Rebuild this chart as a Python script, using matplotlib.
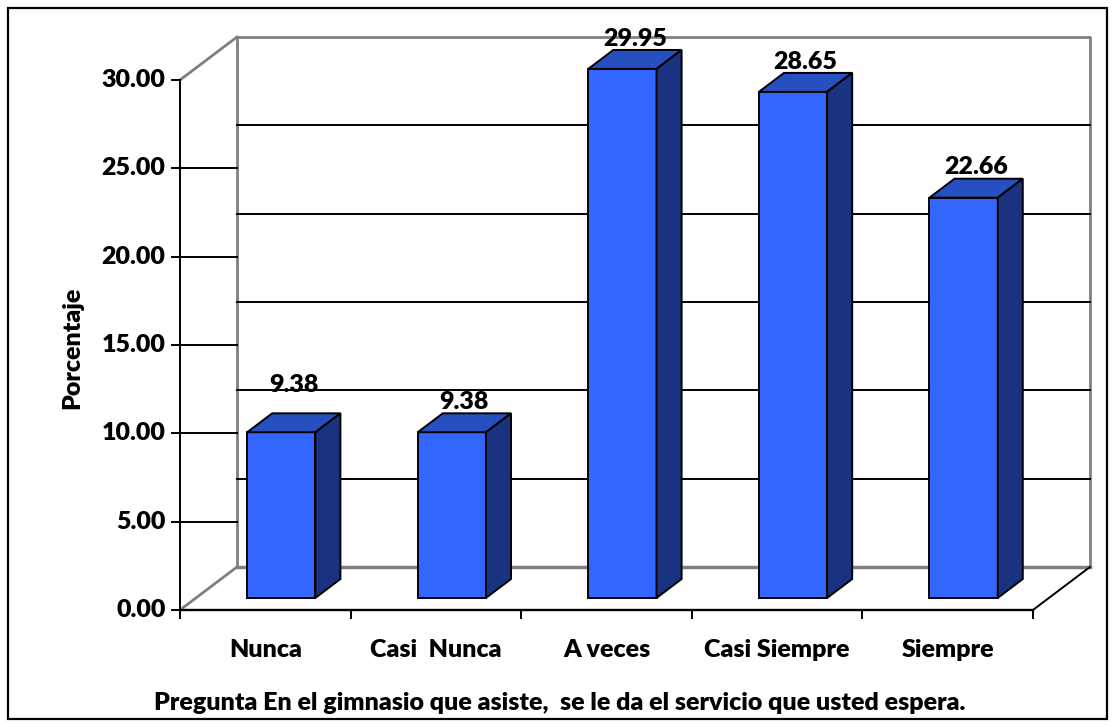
import matplotlib.pyplot as plt
from matplotlib.patches import Polygon, Rectangle

# Datos de la pregunta
categorias = ['Nunca', 'Casi  Nunca', 'A veces', 'Casi Siempre', 'Siempre']
porcentajes = [9.38, 9.38, 29.95, 28.65, 22.66]
ticks_y = [0, 5, 10, 15, 20, 25, 30]

plt.rcParams['font.family'] = ['Lato', 'DejaVu Sans']
plt.rcParams['font.weight'] = 'heavy'

fig = plt.figure(figsize=(11.15, 7.27), dpi=100)
ax = fig.add_axes([0, 0, 1, 1])
ax.set_xlim(-1.055, 5.481)
ax.set_ylim(-6.623, 34.53)
ax.axis('off')

# desplazamiento de profundidad (en unidades de datos)
DX, DY = 0.334, 2.435
n = len(categorias)
ymax = ticks_y[-1]
gris = '#808080'
lw = 1.4

# pared del fondo y suelo
ax.plot([DX, DX, n + DX, n + DX], [DY, ymax + DY, ymax + DY, DY], color=gris, lw=2)
ax.plot([DX, n + DX], [DY, DY], color=gris, lw=2.5)
ax.plot([0, DX], [ymax, ymax + DY], color=gris, lw=2)
ax.plot([0, DX], [0, DY], color=gris, lw=2)
ax.plot([0, n], [0, 0], color='black', lw=lw + 0.3)
ax.plot([n, n + DX], [0, DY], color='black', lw=lw)

# lineas de division
for t in ticks_y[1:-1]:
    ax.plot([DX, n + DX], [t + DY, t + DY], color='black', lw=lw)
    ax.plot([-0.047, DX], [t, t], color='black', lw=lw)

# eje vertical
ax.plot([0, 0], [0, ymax], color='black', lw=lw)
for t in ticks_y:
    ax.plot([-0.047, 0], [t, t], color='black', lw=lw)
    ax.text(-0.085, t, f'{t:.2f}', ha='right', va='center', fontsize=18)

# marcas del eje x y etiquetas
for i in range(n + 1):
    ax.plot([i, i], [0, -0.45], color='black', lw=lw)
for i, c in enumerate(categorias):
    ax.text(i + 0.5, -2.26, c, ha='center', va='center', fontsize=18)

# barras 3D
ancho = 0.4
d0, d1 = 0.28, 0.72
frente, tapa, lado = '#3366FF', '#2650C0', '#1A3380'
extra = [12, 0, 0, 0, 0]
for i, v in enumerate(porcentajes):
    x0 = i + 0.5 - ancho / 2 + d0 * DX
    y0 = d0 * DY
    x1 = x0 + ancho
    ox, oy = (d1 - d0) * DX, (d1 - d0) * DY
    ax.add_patch(Rectangle((x0, y0), ancho, v, facecolor=frente,
                           edgecolor='black', lw=lw, zorder=3))
    ax.add_patch(Polygon([(x0, y0 + v), (x1, y0 + v), (x1 + ox, y0 + v + oy),
                          (x0 + ox, y0 + v + oy)], closed=True,
                         facecolor=tapa, edgecolor='black', lw=lw, zorder=3))
    ax.add_patch(Polygon([(x1, y0), (x1 + ox, y0 + oy), (x1 + ox, y0 + v + oy),
                          (x1, y0 + v)], closed=True,
                         facecolor=lado, edgecolor='black', lw=lw, zorder=3))
    cx = i + 0.5 + 0.5 * DX
    cy = v + 0.5 * DY
    ax.annotate(f'{v:.2f}', (cx, cy), xytext=(0, 15 + extra[i]),
                textcoords='offset points', ha='center', va='center',
                fontsize=18, zorder=4)

# titulos
ax.text(-0.633, 14.83, 'Porcentaje', rotation=90, ha='center', va='center', fontsize=18)
ax.text(2.227, -5.26, 'Pregunta En el gimnasio que asiste,  se le da el servicio que usted espera.',
        ha='center', va='center', fontsize=18)

# borde exterior
fig.patches.append(Rectangle((8 / 1115, 8 / 727), 1099 / 1115, 711 / 727,
                             transform=fig.transFigure, fill=False,
                             edgecolor='black', lw=1.6))

fig.savefig('out.png', dpi=100)
